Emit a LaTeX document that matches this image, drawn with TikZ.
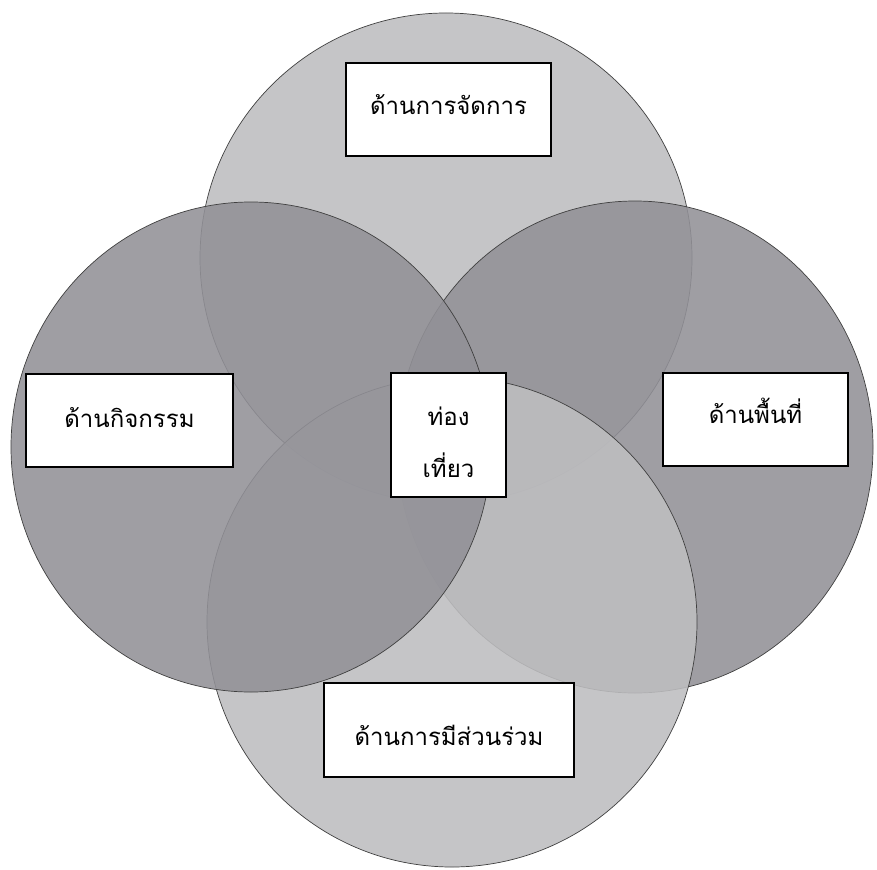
\documentclass[tikz,border=0pt]{standalone}
\usepackage{fontspec}
\newfontfamily\thaifont[Script=Thai]{Loma}
\newcommand{\basedown}[2]{\raisebox{-#1pt}[0pt][0pt]{#2}}
\begin{document}
\begin{tikzpicture}[x=1pt,y=-1pt]
\tikzset{
  setline/.style={draw=black!75, line width=0.7pt},
  lightset/.style={setline, fill={rgb,255:red,190;green,190;blue,192}, fill opacity=0.88},
  darkset/.style={setline, fill={rgb,255:red,146;green,145;blue,151}, fill opacity=0.88},
  labelbox/.style={draw=black, line width=1.4pt, fill=white, inner sep=0pt,
    font=\thaifont\fontsize{24}{52}\selectfont, align=center}
}
\useasboundingbox (0,0) rectangle (877,869);
\fill[white] (0,0) rectangle (877,869);
% sets: drawing order top, right, bottom, left
\path[lightset] (446,258) ellipse [x radius=246, y radius=245];
\path[darkset]  (635,447) ellipse [x radius=238, y radius=246];
\path[lightset] (452,622) ellipse [x radius=245, y radius=245];
\path[darkset]  (251,447) ellipse [x radius=240, y radius=245];
% label boxes
\node[labelbox, minimum width=205pt, minimum height=93pt] (mgmt) at (448.5,109.5) {\basedown{5.5}{ด้านการจัดการ}};
\node[labelbox, minimum width=207pt, minimum height=93pt] (act) at (129.5,420.5) {\basedown{6.5}{ด้านกิจกรรม}};
\node[labelbox, minimum width=185pt, minimum height=93pt] (area) at (755.5,419.5) {\basedown{3.5}{ด้านพื้นที่}};
\node[labelbox, minimum width=250pt, minimum height=94pt] (part) at (449,730) {\basedown{15}{ด้านการมีส่วนร่วม}};
\node[labelbox, minimum width=115pt, minimum height=124pt] (tour) at (448.5,435) {\basedown{16}{ท่อง}\\\basedown{16}{เที่ยว}};
\end{tikzpicture}
\end{document}
